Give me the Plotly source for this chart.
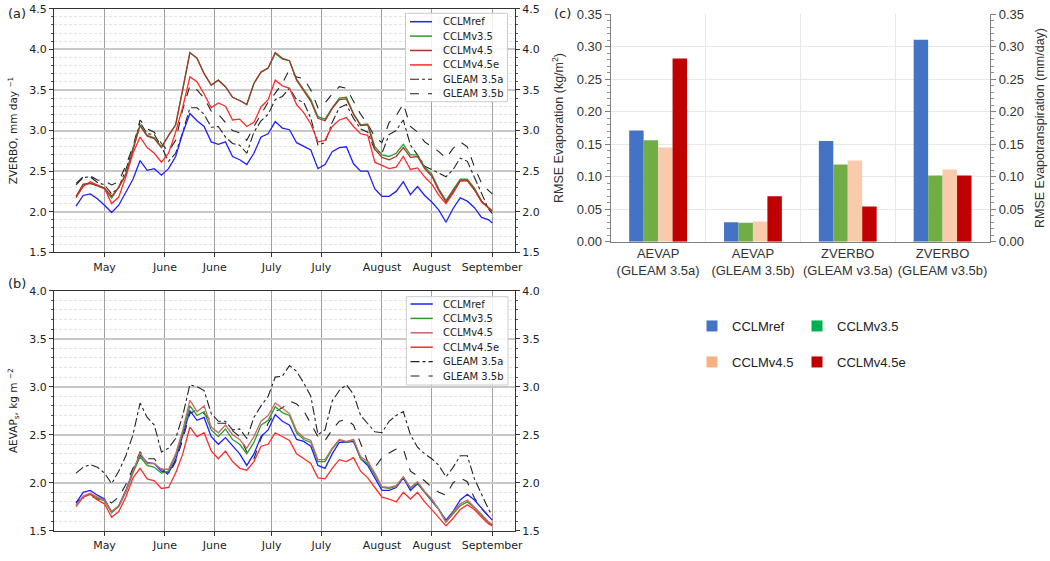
import datetime as dt
import plotly.graph_objects as go

# ---------------- data ----------------
BASE = dt.datetime(2000, 5, 15)
day_offsets = list(range(-8, 109, 2)) + [109]          # days relative to 15 May
dates = [BASE + dt.timedelta(days=d) for d in day_offsets]

tick_dates = ["2000-05-15", "2000-06-01", "2000-06-15", "2000-07-01",
              "2000-07-15", "2000-08-01", "2000-08-15", "2000-09-01"]
tick_text = ["May", "June", "June", "July", "July", "August", "August", "September"]

# panel (a) ZVERBO, mm/day
zv_ref = [2.07, 2.20, 2.22, 2.16, 2.08, 1.99, 2.08, 2.24, 2.40, 2.63, 2.51, 2.53, 2.45, 2.53, 2.68,
          2.97, 3.21, 3.12, 3.05, 2.86, 2.83, 2.86, 2.68, 2.64, 2.58, 2.72, 2.92, 2.96, 3.11, 3.03,
          3.01, 2.85, 2.81, 2.76, 2.53, 2.58, 2.74, 2.79, 2.80, 2.59, 2.50, 2.50, 2.28, 2.19, 2.19,
          2.25, 2.37, 2.21, 2.31, 2.20, 2.12, 2.02, 1.87, 2.04, 2.17, 2.13, 2.05, 1.93, 1.90, 1.86]
zv_v35 = [2.17, 2.33, 2.35, 2.32, 2.28, 2.17, 2.30, 2.46, 2.78, 3.07, 2.94, 2.91, 2.80, 2.94, 3.07,
          3.50, 3.96, 3.89, 3.70, 3.56, 3.62, 3.54, 3.41, 3.37, 3.32, 3.58, 3.72, 3.77, 3.95, 3.88,
          3.86, 3.63, 3.50, 3.38, 3.17, 3.14, 3.28, 3.40, 3.41, 3.21, 3.07, 3.08, 2.80, 2.70, 2.68,
          2.72, 2.83, 2.70, 2.70, 2.55, 2.46, 2.28, 2.14, 2.27, 2.40, 2.40, 2.29, 2.13, 2.04, 2.00]
zv_v45 = [2.19, 2.34, 2.35, 2.32, 2.29, 2.19, 2.30, 2.46, 2.76, 3.06, 2.93, 2.90, 2.79, 2.94, 3.07,
          3.50, 3.96, 3.89, 3.70, 3.56, 3.62, 3.54, 3.41, 3.37, 3.32, 3.58, 3.72, 3.77, 3.96, 3.89,
          3.86, 3.62, 3.49, 3.36, 3.15, 3.12, 3.27, 3.38, 3.39, 3.20, 3.06, 3.07, 2.77, 2.67, 2.64,
          2.68, 2.79, 2.67, 2.68, 2.53, 2.44, 2.26, 2.12, 2.25, 2.38, 2.38, 2.27, 2.13, 2.05, 2.01]
zv_v45e = [2.18, 2.31, 2.37, 2.33, 2.29, 2.10, 2.18, 2.43, 2.72, 2.92, 2.79, 2.72, 2.61, 2.72, 2.98,
           3.29, 3.66, 3.60, 3.45, 3.28, 3.34, 3.30, 3.13, 3.14, 3.05, 3.10, 3.29, 3.38, 3.62, 3.55,
           3.52, 3.32, 3.22, 3.08, 2.86, 2.88, 3.05, 3.13, 3.16, 3.05, 2.96, 2.94, 2.61, 2.57, 2.53,
           2.55, 2.68, 2.52, 2.54, 2.43, 2.34, 2.20, 2.10, 2.23, 2.38, 2.39, 2.27, 2.12, 2.04, 2.01]
zv_gleam_a = [2.33, 2.42, 2.43, 2.36, 2.33, 2.22, 2.30, 2.52, 2.78, 3.10, 2.96, 2.95, 2.80, 2.62, 2.72,
              2.98, 3.28, 3.28, 3.20, 3.04, 3.05, 2.92, 2.84, 2.82, 2.72, 2.98, 3.12, 3.20, 3.38, 3.42,
              3.52, 3.38, 3.35, 3.15, 2.82, 2.85, 3.10, 3.28, 3.32, 3.15, 3.02, 2.98, 2.76, 2.72, 2.95,
              3.00, 3.13, 2.82, 2.70, 2.56, 2.52, 2.47, 2.43, 2.52, 2.66, 2.62, 2.42, 2.22, 2.03, 1.98]
zv_gleam_b = [2.35, 2.43, 2.44, 2.39, 2.38, 2.33, 2.37, 2.57, 2.80, 3.13, 3.02, 2.98, 2.84, 2.74, 2.88,
              3.26, 3.55, 3.50, 3.40, 3.24, 3.20, 3.10, 3.00, 2.97, 2.88, 3.05, 3.20, 3.35, 3.46, 3.58,
              3.75, 3.66, 3.64, 3.50, 3.28, 3.34, 3.45, 3.54, 3.52, 3.36, 3.20, 3.08, 2.92, 2.85, 3.10,
              3.18, 3.33, 3.05, 2.98, 2.86, 2.80, 2.74, 2.66, 2.78, 2.86, 2.80, 2.55, 2.35, 2.26, 2.22]

# panel (b) AEVAP_s, kg/m2
ev_ref = [1.79, 1.90, 1.92, 1.87, 1.83, 1.69, 1.76, 1.92, 2.12, 2.29, 2.21, 2.20, 2.12, 2.10, 2.24,
          2.50, 2.75, 2.65, 2.68, 2.48, 2.40, 2.47, 2.38, 2.30, 2.18, 2.30, 2.48, 2.55, 2.71, 2.64,
          2.60, 2.45, 2.43, 2.38, 2.18, 2.15, 2.30, 2.42, 2.42, 2.43, 2.25, 2.18, 2.05, 1.92, 1.92,
          1.95, 2.05, 1.92, 1.99, 1.90, 1.82, 1.72, 1.61, 1.70, 1.82, 1.88, 1.82, 1.73, 1.65, 1.61]
ev_v35 = [1.77, 1.85, 1.88, 1.84, 1.81, 1.69, 1.75, 1.90, 2.10, 2.27, 2.18, 2.16, 2.10, 2.12, 2.28,
          2.52, 2.80, 2.70, 2.74, 2.55, 2.48, 2.56, 2.45, 2.40, 2.30, 2.42, 2.60, 2.65, 2.79, 2.73,
          2.70, 2.52, 2.45, 2.42, 2.22, 2.22, 2.35, 2.44, 2.42, 2.45, 2.25, 2.20, 2.08, 1.95, 1.94,
          1.96, 2.06, 1.94, 2.00, 1.90, 1.82, 1.72, 1.59, 1.67, 1.76, 1.80, 1.74, 1.66, 1.58, 1.56]
ev_v45 = [1.76, 1.86, 1.89, 1.85, 1.82, 1.70, 1.76, 1.91, 2.12, 2.31, 2.20, 2.20, 2.14, 2.14, 2.30,
          2.55, 2.86, 2.74, 2.80, 2.58, 2.52, 2.60, 2.50, 2.45, 2.36, 2.48, 2.64, 2.70, 2.83, 2.77,
          2.72, 2.54, 2.47, 2.44, 2.24, 2.24, 2.36, 2.45, 2.43, 2.45, 2.27, 2.22, 2.10, 1.96, 1.95,
          1.97, 2.06, 1.95, 2.01, 1.91, 1.83, 1.72, 1.59, 1.69, 1.78, 1.82, 1.75, 1.67, 1.59, 1.57]
ev_v45e = [1.75, 1.85, 1.88, 1.82, 1.78, 1.64, 1.70, 1.85, 2.05, 2.15, 2.04, 2.02, 1.94, 1.95, 2.10,
           2.30, 2.58, 2.48, 2.52, 2.33, 2.25, 2.33, 2.22, 2.15, 2.13, 2.22, 2.38, 2.40, 2.52, 2.48,
           2.44, 2.30, 2.25, 2.20, 2.05, 2.04, 2.15, 2.24, 2.22, 2.26, 2.12, 2.05, 1.95, 1.85, 1.83,
           1.80, 1.90, 1.83, 1.90, 1.80, 1.72, 1.64, 1.55, 1.63, 1.72, 1.77, 1.72, 1.64, 1.57, 1.55]
ev_gleam_a = [2.10, 2.16, 2.19, 2.16, 2.10, 1.99, 2.12, 2.28, 2.50, 2.83, 2.68, 2.60, 2.32, 2.36, 2.46,
              2.70, 3.02, 3.00, 2.96, 2.72, 2.64, 2.64, 2.55, 2.56, 2.46, 2.68, 2.80, 2.90, 3.10, 3.11,
              3.22, 3.16, 3.04, 2.90, 2.50, 2.55, 2.85, 2.96, 3.02, 2.92, 2.70, 2.62, 2.53, 2.52, 2.64,
              2.70, 2.74, 2.50, 2.37, 2.30, 2.25, 2.18, 2.06, 2.16, 2.28, 2.28, 2.04, 1.88, 1.72, 1.66]
ev_gleam_b = [1.80, 1.84, 1.86, 1.83, 1.82, 1.79, 1.85, 1.98, 2.15, 2.32, 2.25, 2.25, 2.15, 2.08, 2.22,
              2.45, 2.72, 2.76, 2.72, 2.64, 2.62, 2.62, 2.54, 2.48, 2.32, 2.25, 2.46, 2.62, 2.74, 2.78,
              2.85, 2.82, 2.75, 2.62, 2.48, 2.44, 2.55, 2.64, 2.66, 2.60, 2.42, 2.22, 2.16, 2.26, 2.31,
              2.35, 2.35, 2.12, 2.07, 2.02, 1.95, 1.90, 1.87, 2.00, 2.05, 2.01, 1.84, 1.73, 1.65, 1.63]

# panel (c) RMSE
rmse_categories = ["AEVAP<br>(GLEAM 3.5a)", "AEVAP<br>(GLEAM 3.5b)",
                   "ZVERBO<br>(GLEAM v3.5a)", "ZVERBO<br>(GLEAM v3.5b)"]
rmse_ref = [0.171, 0.030, 0.155, 0.311]
rmse_v35 = [0.156, 0.029, 0.119, 0.102]
rmse_v45 = [0.145, 0.031, 0.125, 0.111]
rmse_v45e = [0.282, 0.070, 0.054, 0.102]

# ---------------- helpers ----------------
W, H = 1050, 561
def px(x):
    return x / W
def py(y):
    return 1 - y / H

FONT_MPL = "DejaVu Sans"
FONT_XL = "Liberation Sans"

fig = go.Figure()

line_names = ["CCLMref", "CCLMv3.5", "CCLMv4.5", "CCLMv4.5e", "GLEAM 3.5a", "GLEAM 3.5b"]
colors_a = ["#1f1fff", "#2b9b2b", "#a8382f", "#ff2b2b", "#222222", "#222222"]
colors_b = ["#1f1fff", "#2b9b2b", "#c46a66", "#ff2b2b", "#222222", "#222222"]
dashes = ["solid", "solid", "solid", "solid", "dashdot", "dash"]

series_a = [zv_ref, zv_v35, zv_v45, zv_v45e, zv_gleam_a, zv_gleam_b]
series_b = [ev_ref, ev_v35, ev_v45, ev_v45e, ev_gleam_a, ev_gleam_b]

draw_order = [5, 4, 0, 1, 3, 2]
for i in draw_order:
    fig.add_trace(go.Scatter(x=dates, y=series_a[i], mode="lines", name=line_names[i],
                             line=dict(color=colors_a[i], width=1.3 if i < 4 else 1.1, dash=dashes[i]),
                             xaxis="x", yaxis="y", showlegend=False))
for i in draw_order:
    fig.add_trace(go.Scatter(x=dates, y=series_b[i], mode="lines", name=line_names[i],
                             line=dict(color=colors_b[i], width=1.3 if i < 4 else 1.1, dash=dashes[i]),
                             xaxis="x2", yaxis="y2", showlegend=False))
# anchors for right-hand axes
fig.add_trace(go.Scatter(x=[], y=[], xaxis="x", yaxis="y3", showlegend=False, hoverinfo="skip"))
fig.add_trace(go.Scatter(x=[], y=[], xaxis="x2", yaxis="y4", showlegend=False, hoverinfo="skip"))

bar_colors = ["#4472C4", "#70AD47", "#F8CBAD", "#C00000"]
legend_colors = ["#4472C4", "#00B050", "#F4B183", "#C00000"]
bar_names = ["CCLMref", "CCLMv3.5", "CCLMv4.5", "CCLMv4.5e"]
for vals, c, n in zip([rmse_ref, rmse_v35, rmse_v45, rmse_v45e], bar_colors, bar_names):
    fig.add_trace(go.Bar(x=rmse_categories, y=vals, name=n, marker=dict(color=c, line=dict(width=0)),
                         xaxis="x3", yaxis="y5", showlegend=False))
fig.add_trace(go.Scatter(x=[], y=[], xaxis="x3", yaxis="y6", showlegend=False, hoverinfo="skip"))
legend_ids = ["legend", "legend2", "legend3", "legend4"]
for c, n, lid in zip(legend_colors, bar_names, legend_ids):
    fig.add_trace(go.Scatter(x=[None], y=[None], mode="markers", name=n,
                             marker=dict(symbol="square", size=11, color=c),
                             xaxis="x3", yaxis="y5", showlegend=True, legend=lid))

# ---------------- axes ----------------
xrange_dates = [BASE - dt.timedelta(days=14.2), BASE + dt.timedelta(days=115.4)]
tickfont_mpl = dict(family=FONT_MPL, size=11, color="#222")

def xdate(domain_anchor):
    return dict(type="date", domain=[px(54), px(515)], anchor=domain_anchor, range=xrange_dates,
                tickmode="array", tickvals=tick_dates, ticktext=tick_text,
                showgrid=True, gridcolor="#a0a0a0", gridwidth=1,
                showline=True, linecolor="#333", linewidth=1, mirror=True, automargin=False,
                ticks="outside", ticklen=4, tickcolor="#333", tickfont=tickfont_mpl, zeroline=False)

def yleft(dom, rng, anchor, title):
    return dict(domain=dom, range=rng, anchor=anchor, dtick=0.5, tickformat=".1f", automargin=False,
                showgrid=True, gridcolor="#c8c8c8", gridwidth=1.5,
                showline=True, linecolor="#333", linewidth=1, mirror=True,
                ticks="outside", ticklen=4, tickcolor="#333", tickfont=tickfont_mpl, zeroline=False,
                minor=dict(dtick=0.1, showgrid=True, gridcolor="#e4e4e4", griddash="3px,2px", gridwidth=0.8,
                           ticks="outside", ticklen=2, tickcolor="#555"),
                title=dict(text=title, font=dict(family=FONT_MPL, size=10.5, color="#222"), standoff=9))

def yright(over, rng, anchor):
    return dict(overlaying=over, side="right", anchor=anchor, range=rng, dtick=0.5, tickformat=".1f",
                showgrid=False, showline=False, ticks="outside", ticklen=4, tickcolor="#333",
                tickfont=tickfont_mpl, zeroline=False, automargin=False,
                minor=dict(dtick=0.1, ticks="outside", ticklen=2, tickcolor="#555", showgrid=False))

tickfont_xl = dict(family=FONT_XL, size=13, color="#333")
legend_font = dict(family=FONT_XL, size=13, color="#222")
def one_legend(xp, yp):
    return dict(orientation="h", x=px(xp), xanchor="left", y=py(yp), yanchor="middle",
                font=legend_font, bgcolor="rgba(0,0,0,0)")

fig.update_layout(
    xaxis=xdate("y"),
    xaxis2=xdate("y2"),
    yaxis=yleft([py(252.3), py(8.75)], [1.5, 4.5], "x", "ZVERBO, mm day <sup>−1</sup>"),
    yaxis2=yleft([py(530.7), py(290.7)], [1.5, 4.0], "x2", "AEVAP<sub>s</sub>, kg m <sup>−2</sup>"),
    yaxis3=yright("y", [1.5, 4.5], "x"),
    yaxis4=yright("y2", [1.5, 4.0], "x2"),
    xaxis3=dict(domain=[px(610.7), px(990)], anchor="y5", type="category", automargin=False,
                tickson="boundaries", showgrid=True, gridcolor="#e8e8e8", gridwidth=1, tickangle=0,
                showline=True, linecolor="#808080", linewidth=1.2, ticks="", tickfont=tickfont_xl),
    yaxis5=dict(domain=[py(241.7), py(14.3)], anchor="x3", range=[0, 0.35], dtick=0.05, tickformat=".2f",
                showgrid=True, gridcolor="#e8e8e8", gridwidth=1, zeroline=False, automargin=False,
                showline=True, linecolor="#808080", linewidth=1.2,
                ticks="outside", ticklen=5, tickcolor="#808080", tickfont=tickfont_xl,
                minor=dict(dtick=0.01, ticks="outside", ticklen=3, tickcolor="#909090", showgrid=False),
                title=dict(text="RMSE Evaporation (kg/m<sup>2</sup>)",
                           font=dict(family=FONT_XL, size=12.5, color="#333"), standoff=10)),
    yaxis6=dict(overlaying="y5", side="right", anchor="x3", range=[0, 0.35], dtick=0.05, tickformat=".2f",
                showgrid=False, zeroline=False, showline=True, linecolor="#808080", linewidth=1.2,
                ticks="outside", ticklen=5, tickcolor="#808080", tickfont=tickfont_xl, automargin=False,
                minor=dict(dtick=0.01, ticks="outside", ticklen=3, tickcolor="#909090", showgrid=False),
                title=dict(text="RMSE Evapotranspiration (mm/day)",
                           font=dict(family=FONT_XL, size=12.5, color="#333"), standoff=12)),
    barmode="group", bargap=0.39, bargroupgap=0,
    width=W, height=H, margin=dict(l=0, r=0, t=0, b=0, autoexpand=False),
    paper_bgcolor="white", plot_bgcolor="white",
    legend=one_legend(692, 326),
    legend2=one_legend(797, 326),
    legend3=one_legend(692, 362),
    legend4=one_legend(797, 362),
)

# ---------------- manual in-panel legends (a), (b) ----------------
shapes = []
annotations = []
def panel_legend(box, sample_x, text_x, row0, colors):
    x0, x1, y0, y1 = box
    shapes.append(dict(type="rect", xref="paper", yref="paper", x0=px(x0), x1=px(x1), y0=py(y1), y1=py(y0),
                       line=dict(color="#cccccc", width=1), fillcolor="rgba(255,255,255,0.85)", layer="above"))
    for i, name in enumerate(line_names):
        yy = row0 + 14.4 * i
        shapes.append(dict(type="line", xref="paper", yref="paper", x0=px(sample_x[0]), x1=px(sample_x[1]),
                           y0=py(yy), y1=py(yy), layer="above",
                           line=dict(color=colors[i], width=1.5 if i < 4 else 1.1, dash=dashes[i])))
        annotations.append(dict(text=name, xref="paper", yref="paper", x=px(text_x), y=py(yy),
                                xanchor="left", yanchor="middle", showarrow=False,
                                font=dict(family=FONT_MPL, size=10, color="#222")))

panel_legend((405.5, 507.5, 13.3, 101.7), (410, 432), 440.5, 21.7, colors_a)
panel_legend((406.3, 508.0, 296.7, 385.0), (410.5, 432.8), 441.4, 304.0, colors_b)

for lab, xx, yy in [("(a)", 6, 14), ("(b)", 6, 283), ("(c)", 552, 14)]:
    annotations.append(dict(text=lab, xref="paper", yref="paper", x=px(xx), y=py(yy),
                            xanchor="left", yanchor="middle", showarrow=False,
                            font=dict(family=FONT_MPL, size=13, color="#222")))

fig.update_layout(shapes=shapes, annotations=annotations)
fig.write_html("out.html", config={"displayModeBar": False},
               post_script="document.body.style.margin='0px';")
